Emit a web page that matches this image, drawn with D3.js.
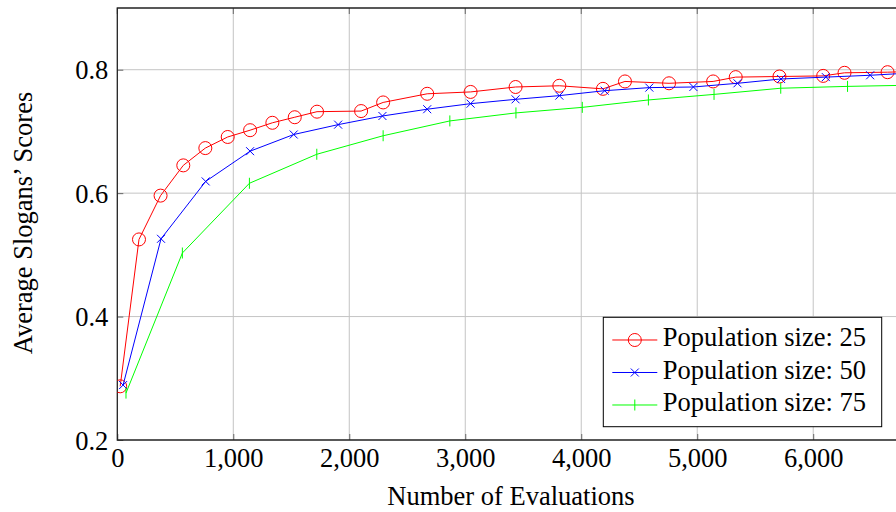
<!DOCTYPE html>
<html>
<head>
<meta charset="utf-8">
<script src="https://cdnjs.cloudflare.com/ajax/libs/d3/7.8.5/d3.min.js"></script>
<style>
    body { margin: 0; background: #fff; }
    text { font-family: "Liberation Serif", "Times New Roman", serif; fill: #000; }
</style>
</head>
<body>
<div id="chart"></div>
<script>
// evaluations (x) and average scores (y) for each population size
var evals25 = [25, 187, 373, 569, 759, 952, 1145, 1337, 1530, 1722, 2102, 2292, 2672, 3046,
    3434, 3811, 4187, 4377, 4757, 5137, 5332, 5709, 6086, 6270, 6641, 6830];
var scores25 = [0.287, 0.525, 0.596, 0.645, 0.673, 0.691, 0.702, 0.714, 0.723, 0.732, 0.733, 0.747, 0.761, 0.764,
    0.772, 0.774, 0.769, 0.781, 0.778, 0.781, 0.788, 0.789, 0.790, 0.795, 0.796, 0.797];

var evals50 = [50, 377, 762, 1145, 1521, 1904, 2286, 2672, 3046, 3434, 3811, 4202, 4587, 4967,
    5347, 5723, 6109, 6491, 6870];
var scores50 = [0.289, 0.526, 0.619, 0.668, 0.695, 0.711, 0.725, 0.736, 0.745, 0.752, 0.758, 0.766, 0.771, 0.772,
    0.778, 0.785, 0.788, 0.791, 0.795];

var evals75 = [75, 561, 1139, 1720, 2292, 2867, 3437, 4009, 4579, 5145, 5720, 6296, 6870];
var scores75 = [0.276, 0.503, 0.616, 0.663, 0.693, 0.717, 0.730, 0.739, 0.751, 0.760, 0.770, 0.773, 0.775];

var xTicks = [0, 1000, 2000, 3000, 4000, 5000, 6000];
var yTicks = [0.2, 0.4, 0.6, 0.8];
var legendLabels = ["Population size: 25", "Population size: 50", "Population size: 75"];

var series = [
    { xs: evals25, ys: scores25, color: "#ff0000", mark: "circle" },
    { xs: evals50, ys: scores50, color: "#0000ff", mark: "cross" },
    { xs: evals75, ys: scores75, color: "#00ff00", mark: "bar" }
];

var width = 896, height = 512;
var mLeft = 117.3, mTop = 8, mBottom = 440;
var plotRight = 906; // axis runs a little past the picture edge
var fontSize = "26.5px";

var svg = d3.select("#chart")
    .append("svg")
    .attr("width", width)
    .attr("height", height);

var xscale = d3.scaleLinear().domain([0, 6800]).range([mLeft, plotRight]);
var yscale = d3.scaleLinear().domain([0.2, 0.9]).range([mBottom, mTop]);

svg.append("clipPath")
    .attr("id", "clip")
    .append("rect")
    .attr("x", mLeft).attr("y", mTop)
    .attr("width", plotRight - mLeft).attr("height", mBottom - mTop);

// grid
var grid = svg.append("g");
grid.selectAll(".gx")
    .data(xTicks.slice(1))
    .enter().append("line")
    .attr("x1", (d) => xscale(d)).attr("x2", (d) => xscale(d))
    .attr("y1", mTop).attr("y2", mBottom)
    .style("stroke", "#c4c4c4").style("stroke-width", 1);
grid.selectAll(".gy")
    .data(yTicks.slice(1))
    .enter().append("line")
    .attr("x1", mLeft).attr("x2", plotRight)
    .attr("y1", (d) => yscale(d)).attr("y2", (d) => yscale(d))
    .style("stroke", "#c4c4c4").style("stroke-width", 1);

// axes, ticks pointing inwards like pgfplots
var x_axis = d3.axisBottom(xscale)
    .tickValues(xTicks)
    .tickFormat(d3.format(","))
    .tickSizeInner(-6).tickSizeOuter(0);
var y_axis = d3.axisLeft(yscale)
    .tickValues(yTicks)
    .tickFormat(d3.format(".1f"))
    .tickSizeInner(-6).tickSizeOuter(0);

var gx = svg.append("g")
    .attr("id", "x-axis")
    .attr("transform", "translate(0," + mBottom + ")")
    .call(x_axis);
var gy = svg.append("g")
    .attr("id", "y-axis")
    .attr("transform", "translate(" + mLeft + ",0)")
    .call(y_axis);

[gx, gy].forEach(function (g) {
    g.select(".domain").remove();
    g.selectAll(".tick line").style("stroke", "#666").style("stroke-width", 1);
    g.selectAll(".tick text")
        .style("font-family", "'Liberation Serif', serif")
        .style("font-size", fontSize)
        .style("fill", "#000");
});
gx.selectAll(".tick text").attr("dy", null).attr("y", 27);
gy.selectAll(".tick text").attr("dy", "0.34em").attr("x", -9);

// top ticks
svg.append("g").selectAll("line")
    .data(xTicks)
    .enter().append("line")
    .attr("x1", (d) => xscale(d)).attr("x2", (d) => xscale(d))
    .attr("y1", mTop).attr("y2", mTop + 6)
    .style("stroke", "#666");

// frame
svg.append("path")
    .attr("d", "M" + plotRight + "," + mTop + "H" + mLeft + "V" + mBottom + "H" + plotRight)
    .style("fill", "none").style("stroke", "#222").style("stroke-width", 1.3);

function drawMark(g, kind, color) {
    if (kind == "circle") {
        g.append("circle").attr("r", 6.5)
            .style("fill", "none").style("stroke", color).style("stroke-width", 1);
    } else if (kind == "cross") {
        g.append("path").attr("d", "M-4,-4L4,4M-4,4L4,-4")
            .style("stroke", color).style("stroke-width", 1);
    } else {
        g.append("path").attr("d", "M0,-5.5V5.5")
            .style("stroke", color).style("stroke-width", 1);
    }
}

var line = d3.line()
    .x((d) => xscale(d[0]))
    .y((d) => yscale(d[1]));

var plot = svg.append("g").attr("clip-path", "url(#clip)");
series.forEach(function (s) {
    var pts = s.xs.map((x, i) => [x, s.ys[i]]);
    plot.append("path")
        .datum(pts)
        .attr("d", line)
        .style("fill", "none")
        .style("stroke", s.color)
        .style("stroke-width", 1);
    plot.selectAll(null)
        .data(pts)
        .enter().append("g")
        .attr("transform", (d) => "translate(" + xscale(d[0]) + "," + yscale(d[1]) + ")")
        .each(function () { drawMark(d3.select(this), s.mark, s.color); });
});

// legend (south east)
var legend = svg.append("g").attr("transform", "translate(603.3,317.3)");
legend.append("rect")
    .attr("width", 278.4).attr("height", 109.4)
    .style("fill", "#fff").style("stroke", "#000").style("stroke-width", 1);
legendLabels.forEach(function (label, i) {
    var cy = 22.7 + i * 32.5;
    legend.append("line")
        .attr("x1", 9).attr("x2", 54).attr("y1", cy).attr("y2", cy)
        .style("stroke", series[i].color).style("stroke-width", 1);
    var m = legend.append("g").attr("transform", "translate(31.5," + cy + ")");
    drawMark(m, series[i].mark, series[i].color);
    legend.append("text")
        .text(label)
        .attr("x", 59.5)
        .attr("y", cy + 6.5)
        .style("font-size", fontSize);
});

// axis titles
svg.append("text")
    .text("Number of Evaluations")
    .attr("x", 511)
    .attr("y", 505)
    .attr("text-anchor", "middle")
    .style("font-size", fontSize);

svg.append("text")
    .text("Average Slogans\u2019 Scores")
    .attr("transform", "translate(32,223) rotate(-90)")
    .attr("text-anchor", "middle")
    .style("font-size", fontSize);
</script>
</body>
</html>
